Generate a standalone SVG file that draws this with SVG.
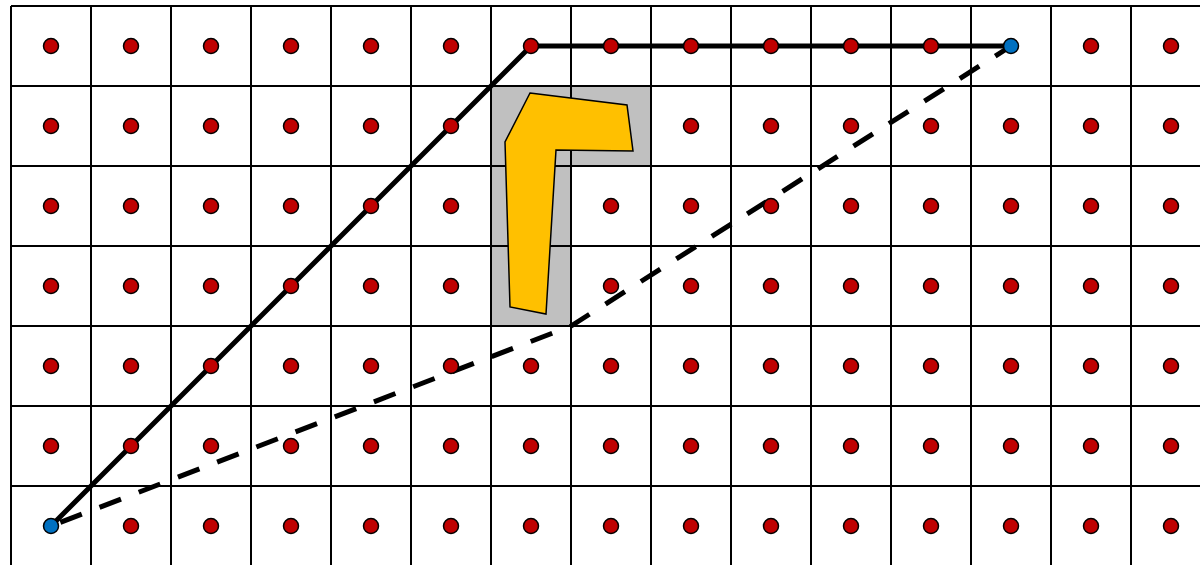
<svg xmlns="http://www.w3.org/2000/svg" width="1200" height="565" viewBox="0 0 1200 565">
<style>
.grid{fill:none;stroke:#000;stroke-width:2}
.obst{fill:#c0c0c0}
.shape{fill:#ffc000;stroke:#000;stroke-width:1.5;stroke-linejoin:miter}
.path{fill:none;stroke:#000;stroke-width:5;stroke-linejoin:miter}
.dash{stroke-dasharray:23 19;stroke-dashoffset:32}
.pt{fill:#c00000;stroke:#000;stroke-width:1.5}
.end{fill:#0070c0;stroke:#000;stroke-width:1.5}
</style>
<rect width="1200" height="565" fill="#fff"/>
<g id="obstacle-cells">
<rect class="obst" x="491" y="86" width="160" height="80"/>
<rect class="obst" x="491" y="166" width="80" height="160"/>
</g>
<g id="grid">
<path class="grid" d="M11,6V565M91,6V565M171,6V565M251,6V565M331,6V565M411,6V565M491,6V565M571,6V565M651,6V565M731,6V565M811,6V565M891,6V565M971,6V565M1051,6V565M1131,6V565M11,6H1200M11,86H1200M11,166H1200M11,246H1200M11,326H1200M11,406H1200M11,486H1200"/>
</g>
<g id="obstacle">
<polygon class="shape" points="530,93 627,105 633,151 556,150 546,314 510,307 505,142"/>
</g>
<g id="connectors">
<path id="solid-path" class="path" d="M51,526L531,46L1011,46"/>
<path id="dashed-path" class="path dash" d="M51,526L571,326L1011,46"/>
</g>
<g id="nodes">
<g id="row0">
<circle class="pt" cx="51" cy="46" r="7.5"/><circle class="pt" cx="131" cy="46" r="7.5"/><circle class="pt" cx="211" cy="46" r="7.5"/><circle class="pt" cx="291" cy="46" r="7.5"/><circle class="pt" cx="371" cy="46" r="7.5"/><circle class="pt" cx="451" cy="46" r="7.5"/><circle class="pt" cx="531" cy="46" r="7.5"/><circle class="pt" cx="611" cy="46" r="7.5"/><circle class="pt" cx="691" cy="46" r="7.5"/><circle class="pt" cx="771" cy="46" r="7.5"/><circle class="pt" cx="851" cy="46" r="7.5"/><circle class="pt" cx="931" cy="46" r="7.5"/><circle class="pt" cx="1091" cy="46" r="7.5"/><circle class="pt" cx="1171" cy="46" r="7.5"/>
</g>
<g id="row1">
<circle class="pt" cx="51" cy="126" r="7.5"/><circle class="pt" cx="131" cy="126" r="7.5"/><circle class="pt" cx="211" cy="126" r="7.5"/><circle class="pt" cx="291" cy="126" r="7.5"/><circle class="pt" cx="371" cy="126" r="7.5"/><circle class="pt" cx="451" cy="126" r="7.5"/><circle class="pt" cx="691" cy="126" r="7.5"/><circle class="pt" cx="771" cy="126" r="7.5"/><circle class="pt" cx="851" cy="126" r="7.5"/><circle class="pt" cx="931" cy="126" r="7.5"/><circle class="pt" cx="1011" cy="126" r="7.5"/><circle class="pt" cx="1091" cy="126" r="7.5"/><circle class="pt" cx="1171" cy="126" r="7.5"/>
</g>
<g id="row2">
<circle class="pt" cx="51" cy="206" r="7.5"/><circle class="pt" cx="131" cy="206" r="7.5"/><circle class="pt" cx="211" cy="206" r="7.5"/><circle class="pt" cx="291" cy="206" r="7.5"/><circle class="pt" cx="371" cy="206" r="7.5"/><circle class="pt" cx="451" cy="206" r="7.5"/><circle class="pt" cx="611" cy="206" r="7.5"/><circle class="pt" cx="691" cy="206" r="7.5"/><circle class="pt" cx="771" cy="206" r="7.5"/><circle class="pt" cx="851" cy="206" r="7.5"/><circle class="pt" cx="931" cy="206" r="7.5"/><circle class="pt" cx="1011" cy="206" r="7.5"/><circle class="pt" cx="1091" cy="206" r="7.5"/><circle class="pt" cx="1171" cy="206" r="7.5"/>
</g>
<g id="row3">
<circle class="pt" cx="51" cy="286" r="7.5"/><circle class="pt" cx="131" cy="286" r="7.5"/><circle class="pt" cx="211" cy="286" r="7.5"/><circle class="pt" cx="291" cy="286" r="7.5"/><circle class="pt" cx="371" cy="286" r="7.5"/><circle class="pt" cx="451" cy="286" r="7.5"/><circle class="pt" cx="611" cy="286" r="7.5"/><circle class="pt" cx="691" cy="286" r="7.5"/><circle class="pt" cx="771" cy="286" r="7.5"/><circle class="pt" cx="851" cy="286" r="7.5"/><circle class="pt" cx="931" cy="286" r="7.5"/><circle class="pt" cx="1011" cy="286" r="7.5"/><circle class="pt" cx="1091" cy="286" r="7.5"/><circle class="pt" cx="1171" cy="286" r="7.5"/>
</g>
<g id="row4">
<circle class="pt" cx="51" cy="366" r="7.5"/><circle class="pt" cx="131" cy="366" r="7.5"/><circle class="pt" cx="211" cy="366" r="7.5"/><circle class="pt" cx="291" cy="366" r="7.5"/><circle class="pt" cx="371" cy="366" r="7.5"/><circle class="pt" cx="451" cy="366" r="7.5"/><circle class="pt" cx="531" cy="366" r="7.5"/><circle class="pt" cx="611" cy="366" r="7.5"/><circle class="pt" cx="691" cy="366" r="7.5"/><circle class="pt" cx="771" cy="366" r="7.5"/><circle class="pt" cx="851" cy="366" r="7.5"/><circle class="pt" cx="931" cy="366" r="7.5"/><circle class="pt" cx="1011" cy="366" r="7.5"/><circle class="pt" cx="1091" cy="366" r="7.5"/><circle class="pt" cx="1171" cy="366" r="7.5"/>
</g>
<g id="row5">
<circle class="pt" cx="51" cy="446" r="7.5"/><circle class="pt" cx="131" cy="446" r="7.5"/><circle class="pt" cx="211" cy="446" r="7.5"/><circle class="pt" cx="291" cy="446" r="7.5"/><circle class="pt" cx="371" cy="446" r="7.5"/><circle class="pt" cx="451" cy="446" r="7.5"/><circle class="pt" cx="531" cy="446" r="7.5"/><circle class="pt" cx="611" cy="446" r="7.5"/><circle class="pt" cx="691" cy="446" r="7.5"/><circle class="pt" cx="771" cy="446" r="7.5"/><circle class="pt" cx="851" cy="446" r="7.5"/><circle class="pt" cx="931" cy="446" r="7.5"/><circle class="pt" cx="1011" cy="446" r="7.5"/><circle class="pt" cx="1091" cy="446" r="7.5"/><circle class="pt" cx="1171" cy="446" r="7.5"/>
</g>
<g id="row6">
<circle class="pt" cx="131" cy="526" r="7.5"/><circle class="pt" cx="211" cy="526" r="7.5"/><circle class="pt" cx="291" cy="526" r="7.5"/><circle class="pt" cx="371" cy="526" r="7.5"/><circle class="pt" cx="451" cy="526" r="7.5"/><circle class="pt" cx="531" cy="526" r="7.5"/><circle class="pt" cx="611" cy="526" r="7.5"/><circle class="pt" cx="691" cy="526" r="7.5"/><circle class="pt" cx="771" cy="526" r="7.5"/><circle class="pt" cx="851" cy="526" r="7.5"/><circle class="pt" cx="931" cy="526" r="7.5"/><circle class="pt" cx="1011" cy="526" r="7.5"/><circle class="pt" cx="1091" cy="526" r="7.5"/><circle class="pt" cx="1171" cy="526" r="7.5"/>
</g>
<g id="start"><circle class="end" cx="51" cy="526" r="7.5"/></g>
<g id="goal"><circle class="end" cx="1011" cy="46" r="7.5"/></g>
</g>
</svg>
